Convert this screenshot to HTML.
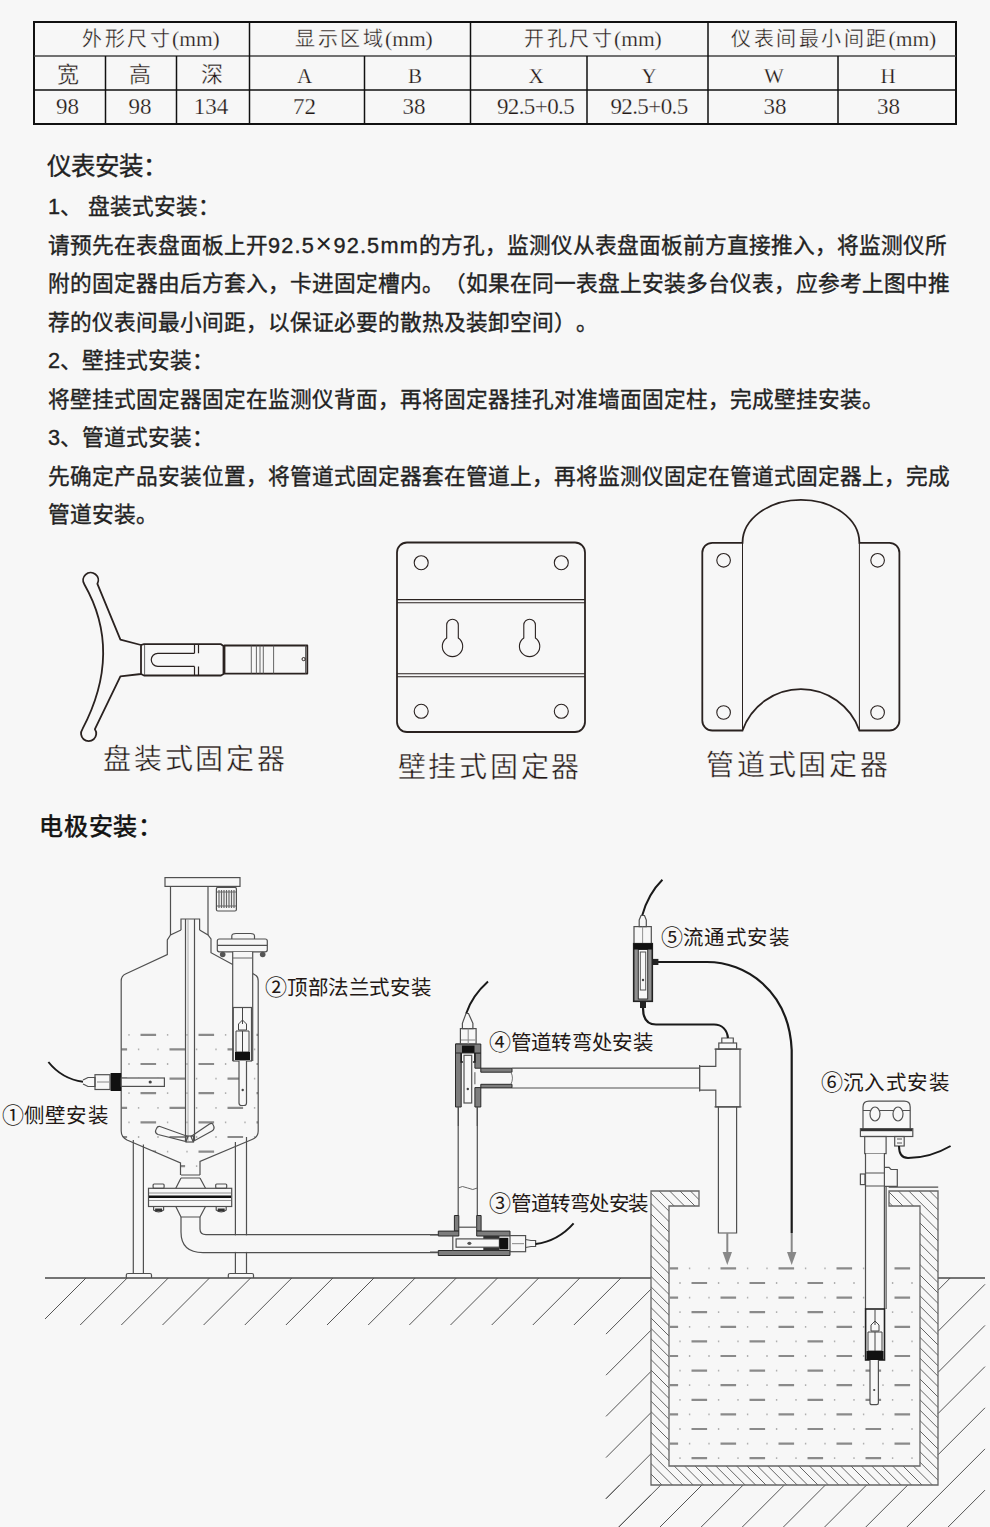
<!DOCTYPE html>
<html lang="zh-CN">
<head>
<meta charset="utf-8">
<style>
html,body{margin:0;padding:0;}
body{text-spacing-trim:space-all;width:990px;height:1527px;background:#f7f7f7;position:relative;overflow:hidden;font-family:"Liberation Sans",sans-serif;color:#222;}
.t{position:absolute;white-space:nowrap;line-height:1;}
.b{font-size:21.7px;font-weight:400;left:48px;-webkit-text-stroke:0.35px #222;}
.h{font-size:24.5px;font-weight:400;-webkit-text-stroke:0.35px #222;}
.tb{font-size:20px;color:#231815;letter-spacing:2.5px;-webkit-text-stroke:0.35px #f7f7f7;}
.tb .ser{letter-spacing:0;-webkit-text-stroke:0.25px #f7f7f7;}
.ser{font-family:"Liberation Serif",serif;font-size:21.5px;color:#231815;}
.tc{width:100px;text-align:center;font-size:22px;color:#231815;-webkit-text-stroke:0.35px #f7f7f7;}
.tc.ser{-webkit-text-stroke:0.25px #f7f7f7;font-size:21px;}
.tc.num{font-size:23px;}
.cap{font-size:28px;color:#231815;letter-spacing:2.8px;-webkit-text-stroke:0.4px #f7f7f7;}
.lb{font-size:20.5px;color:#231815;letter-spacing:1.2px;}
.cn{font-size:22px;letter-spacing:0;}
svg{position:absolute;left:0;top:0;}
</style>
</head>
<body>
<svg width="990" height="1527" viewBox="0 0 990 1527">
<!-- table -->
<g stroke="#111" fill="none">
<rect x="34" y="22" width="922" height="102" stroke-width="2"/>
<line x1="34" y1="56" x2="956" y2="56" stroke-width="1.5" stroke="#444"/>
<line x1="34" y1="90" x2="956" y2="90" stroke-width="1.5"/>
<g stroke-width="1.5">
<line x1="105.5" y1="56" x2="105.5" y2="124"/>
<line x1="176.5" y1="56" x2="176.5" y2="124"/>
<line x1="249.5" y1="22" x2="249.5" y2="124"/>
<line x1="364.5" y1="56" x2="364.5" y2="124"/>
<line x1="470.5" y1="22" x2="470.5" y2="124"/>
<line x1="587" y1="56" x2="587" y2="124"/>
<line x1="708" y1="22" x2="708" y2="124"/>
<line x1="838" y1="56" x2="838" y2="124"/>
</g>
</g>

<!-- bracket 1 -->
<g fill="none" stroke="#2a2220" stroke-width="1.8" stroke-linejoin="round">
<path d="M84.3,584.3 A7.6,7.6 0 1 1 97.4,583.8 L120.4,639.6 L141,645 L141,674 L120.4,676.3 L94.9,729.2 A7.6,7.6 0 1 1 82.4,729.2 Q123,652 84.3,584.3 Z"/>
<path d="M141,645 L144,644.2 L221,644.2 L223.5,646 L223.5,674 L221,675.5 L144,675.5 L141,674"/>
<rect x="224.5" y="645.5" width="82.8" height="28.1"/>
<path d="M194.5,653.3 L157.8,653.3 A6.55,6.55 0 0 0 157.8,666.4 L194.5,666.4" stroke-width="1.2"/>
<path d="M194.5,644.2 V653.3 M198.5,644.2 V653.3 M194.5,666.4 V675.5 M198.5,666.4 V675.5" stroke-width="1.2"/>
<path d="M144.6,645 V675 M251.3,645.5 V673.6 M256.4,645.5 V673.6 M260,645.5 V673.6 M263.3,645.5 V673.6 M273.6,645.5 V673.6 M305.5,645.5 V673.6" stroke-width="0.9" stroke="#555"/>
<circle cx="303.6" cy="659.1" r="1.6" stroke-width="1"/>
</g>
<!-- bracket 2 -->
<g fill="none" stroke="#2a2220" stroke-width="1.8">
<rect x="397" y="542.5" width="188" height="189.5" rx="10"/>
<g stroke-width="1.1">
<circle cx="421.2" cy="562.7" r="7"/><circle cx="561.3" cy="562.7" r="7"/>
<circle cx="421.2" cy="711.3" r="7"/><circle cx="561.3" cy="711.3" r="7"/>
</g>
<path d="M397,599.6 H585 M397,602.7 H585 M397,673.8 H585 M397,676.7 H585" stroke-width="1.1"/>
<path d="M446.7,638 V625 A5.8,5.8 0 0 1 458.3,625 V638 A10.2,10.2 0 1 1 446.7,638 Z" stroke-width="1.1"/>
<path d="M523.8,638 V625 A5.8,5.8 0 0 1 535.4,625 V638 A10.2,10.2 0 1 1 523.8,638 Z" stroke-width="1.1"/>
</g>
<!-- bracket 3 -->
<g fill="none" stroke="#2a2220" stroke-width="1.8">
<path d="M742.5,542.8 A58.45,43 0 0 1 859.4,542.8 L889.4,542.8 A10,10 0 0 1 899.4,552.8 L899.4,720.5 A10,10 0 0 1 889.4,730.5 L859.4,730.5 A62,62 0 0 0 742.5,730.5 L712.3,730.5 A10,10 0 0 1 702.3,720.5 L702.3,552.8 A10,10 0 0 1 712.3,542.8 Z"/>
<path d="M742.5,542.8 V730.5 M859.4,542.8 V730.5" stroke-width="1"/>
<g stroke-width="1.1">
<circle cx="723.6" cy="560.3" r="6.8"/><circle cx="877.6" cy="560.3" r="6.8"/>
<circle cx="723.6" cy="712.5" r="6.8"/><circle cx="877.6" cy="712.5" r="6.8"/>
</g>
</g>
<path d="M45.0,1319.0L86.0,1278.0M80.2,1325.0L127.2,1278.0M121.3,1325.0L168.3,1278.0M162.5,1325.0L209.5,1278.0M203.6,1325.0L250.6,1278.0M244.8,1325.0L291.8,1278.0M285.9,1325.0L332.9,1278.0M327.0,1325.0L374.0,1278.0M368.2,1325.0L415.2,1278.0M409.3,1325.0L456.3,1278.0M450.5,1325.0L497.5,1278.0M491.7,1325.0L538.7,1278.0M532.8,1325.0L579.8,1278.0M573.9,1325.0L620.9,1278.0M615.1,1325.0L651.0,1289.1M606.0,1334.1L615.1,1325.0M606.0,1375.2L651.0,1330.2M606.0,1416.4L651.0,1371.4M606.0,1457.6L651.0,1412.6M606.0,1498.7L651.0,1453.7M618.8,1527.0L651.0,1494.8M606.0,1498.7L619.7,1485.0M618.8,1527.0L660.8,1485.0M660.0,1527.0L702.0,1485.0M701.2,1527.0L743.2,1485.0M742.3,1527.0L784.3,1485.0M783.4,1527.0L825.4,1485.0M824.6,1527.0L866.6,1485.0M865.8,1527.0L907.8,1485.0M906.9,1527.0L948.9,1485.0M948.1,1527.0L985.0,1490.1M938.0,1290.2L950.2,1278.0M938.0,1331.3L985.0,1284.3M938.0,1372.4L985.0,1325.4M938.0,1413.6L985.0,1366.6M938.0,1454.8L985.0,1407.8M948.9,1485.0L985.0,1448.9" stroke="#555" stroke-width="1" fill="none"/>
<path d="M45,1278H651M938,1278H985" stroke="#4a4a4a" stroke-width="1.3" fill="none"/>
<clipPath id="wall"><path d="M651,1191H699V1206H669V1466H920V1206H889V1191H938V1485H651Z"/></clipPath>
<path d="M640,1504.6L950,1814.6M640,1494.2L950,1804.2M640,1483.8L950,1793.8M640,1473.4L950,1783.4M640,1463.0L950,1773.0M640,1452.6L950,1762.6M640,1442.2L950,1752.2M640,1431.8L950,1741.8M640,1421.4L950,1731.4M640,1411.0L950,1721.0M640,1400.6L950,1710.6M640,1390.2L950,1700.2M640,1379.8L950,1689.8M640,1369.4L950,1679.4M640,1359.0L950,1669.0M640,1348.6L950,1658.6M640,1338.2L950,1648.2M640,1327.8L950,1637.8M640,1317.4L950,1627.4M640,1307.0L950,1617.0M640,1296.6L950,1606.6M640,1286.2L950,1596.2M640,1275.8L950,1585.8M640,1265.4L950,1575.4M640,1255.0L950,1565.0M640,1244.6L950,1554.6M640,1234.2L950,1544.2M640,1223.8L950,1533.8M640,1213.4L950,1523.4M640,1203.0L950,1513.0M640,1192.6L950,1502.6M640,1182.2L950,1492.2M640,1171.8L950,1481.8M640,1161.4L950,1471.4M640,1151.0L950,1461.0M640,1140.6L950,1450.6M640,1130.2L950,1440.2M640,1119.8L950,1429.8M640,1109.4L950,1419.4M640,1099.0L950,1409.0M640,1088.6L950,1398.6M640,1078.2L950,1388.2M640,1067.8L950,1377.8M640,1057.4L950,1367.4M640,1047.0L950,1357.0M640,1036.6L950,1346.6M640,1026.2L950,1336.2M640,1015.8L950,1325.8M640,1005.4L950,1315.4M640,995.0L950,1305.0M640,984.6L950,1294.6M640,974.2L950,1284.2M640,963.8L950,1273.8M640,953.4L950,1263.4M640,943.0L950,1253.0M640,932.6L950,1242.6M640,922.2L950,1232.2M640,911.8L950,1221.8M640,901.4L950,1211.4M640,891.0L950,1201.0M640,880.6L950,1190.6M640,870.2L950,1180.2" stroke="#666" stroke-width="1" fill="none" clip-path="url(#wall)"/>
<path d="M651,1191H699V1206H669V1466H920V1206H889V1191H938V1485H651Z" stroke="#666" stroke-width="1.3" fill="none"/>
<clipPath id="vw"><path d="M121.5,1027H258V1131Q258,1137 252,1139.5L200,1161.5V1172H181V1163L127,1140Q121.5,1137 121.5,1131Z"/></clipPath>
<clipPath id="pw"><rect x="669.5" y="1260" width="250" height="205.5"/></clipPath>
<g clip-path="url(#vw)"><path d="M82.5,1034.8H98.1M140.5,1034.8H156.1M198.5,1034.8H214.1M256.5,1034.8H272.1M111.5,1049.4H127.1M169.5,1049.4H185.1M227.5,1049.4H243.1M285.5,1049.4H301.1M82.5,1064.0H98.1M140.5,1064.0H156.1M198.5,1064.0H214.1M256.5,1064.0H272.1M111.5,1078.6H127.1M169.5,1078.6H185.1M227.5,1078.6H243.1M285.5,1078.6H301.1M82.5,1093.2H98.1M140.5,1093.2H156.1M198.5,1093.2H214.1M256.5,1093.2H272.1M111.5,1107.8H127.1M169.5,1107.8H185.1M227.5,1107.8H243.1M285.5,1107.8H301.1M82.5,1122.4H98.1M140.5,1122.4H156.1M198.5,1122.4H214.1M256.5,1122.4H272.1M111.5,1137.0H127.1M169.5,1137.0H185.1M227.5,1137.0H243.1M285.5,1137.0H301.1M82.5,1151.6H98.1M140.5,1151.6H156.1M198.5,1151.6H214.1M256.5,1151.6H272.1M111.5,1166.2H127.1M169.5,1166.2H185.1M227.5,1166.2H243.1M285.5,1166.2H301.1" stroke="#8a8a8a" stroke-width="2.2"/><path d="M108.9,1034.8H110.3M128.3,1034.8H129.7M166.9,1034.8H168.3M186.3,1034.8H187.7M224.9,1034.8H226.3M244.3,1034.8H245.7M282.9,1034.8H284.3M99.3,1049.4H100.7M137.9,1049.4H139.3M157.3,1049.4H158.7M195.9,1049.4H197.3M215.3,1049.4H216.7M253.9,1049.4H255.3M273.3,1049.4H274.7M108.9,1064.0H110.3M128.3,1064.0H129.7M166.9,1064.0H168.3M186.3,1064.0H187.7M224.9,1064.0H226.3M244.3,1064.0H245.7M282.9,1064.0H284.3M99.3,1078.6H100.7M137.9,1078.6H139.3M157.3,1078.6H158.7M195.9,1078.6H197.3M215.3,1078.6H216.7M253.9,1078.6H255.3M273.3,1078.6H274.7M108.9,1093.2H110.3M128.3,1093.2H129.7M166.9,1093.2H168.3M186.3,1093.2H187.7M224.9,1093.2H226.3M244.3,1093.2H245.7M282.9,1093.2H284.3M99.3,1107.8H100.7M137.9,1107.8H139.3M157.3,1107.8H158.7M195.9,1107.8H197.3M215.3,1107.8H216.7M253.9,1107.8H255.3M273.3,1107.8H274.7M108.9,1122.4H110.3M128.3,1122.4H129.7M166.9,1122.4H168.3M186.3,1122.4H187.7M224.9,1122.4H226.3M244.3,1122.4H245.7M282.9,1122.4H284.3M99.3,1137.0H100.7M137.9,1137.0H139.3M157.3,1137.0H158.7M195.9,1137.0H197.3M215.3,1137.0H216.7M253.9,1137.0H255.3M273.3,1137.0H274.7M108.9,1151.6H110.3M128.3,1151.6H129.7M166.9,1151.6H168.3M186.3,1151.6H187.7M224.9,1151.6H226.3M244.3,1151.6H245.7M282.9,1151.6H284.3M99.3,1166.2H100.7M137.9,1166.2H139.3M157.3,1166.2H158.7M195.9,1166.2H197.3M215.3,1166.2H216.7M253.9,1166.2H255.3M273.3,1166.2H274.7" stroke="#b0b0b0" stroke-width="1.8"/></g>
<g clip-path="url(#pw)"><path d="M662.5,1268.4H678.1M720.5,1268.4H736.1M778.5,1268.4H794.1M836.5,1268.4H852.1M894.5,1268.4H910.1M633.5,1283.0H649.1M691.5,1283.0H707.1M749.5,1283.0H765.1M807.5,1283.0H823.1M865.5,1283.0H881.1M923.5,1283.0H939.1M662.5,1297.6H678.1M720.5,1297.6H736.1M778.5,1297.6H794.1M836.5,1297.6H852.1M894.5,1297.6H910.1M633.5,1312.2H649.1M691.5,1312.2H707.1M749.5,1312.2H765.1M807.5,1312.2H823.1M865.5,1312.2H881.1M923.5,1312.2H939.1M662.5,1326.8H678.1M720.5,1326.8H736.1M778.5,1326.8H794.1M836.5,1326.8H852.1M894.5,1326.8H910.1M633.5,1341.4H649.1M691.5,1341.4H707.1M749.5,1341.4H765.1M807.5,1341.4H823.1M865.5,1341.4H881.1M923.5,1341.4H939.1M662.5,1356.0H678.1M720.5,1356.0H736.1M778.5,1356.0H794.1M836.5,1356.0H852.1M894.5,1356.0H910.1M633.5,1370.6H649.1M691.5,1370.6H707.1M749.5,1370.6H765.1M807.5,1370.6H823.1M865.5,1370.6H881.1M923.5,1370.6H939.1M662.5,1385.2H678.1M720.5,1385.2H736.1M778.5,1385.2H794.1M836.5,1385.2H852.1M894.5,1385.2H910.1M633.5,1399.8H649.1M691.5,1399.8H707.1M749.5,1399.8H765.1M807.5,1399.8H823.1M865.5,1399.8H881.1M923.5,1399.8H939.1M662.5,1414.4H678.1M720.5,1414.4H736.1M778.5,1414.4H794.1M836.5,1414.4H852.1M894.5,1414.4H910.1M633.5,1429.0H649.1M691.5,1429.0H707.1M749.5,1429.0H765.1M807.5,1429.0H823.1M865.5,1429.0H881.1M923.5,1429.0H939.1M662.5,1443.6H678.1M720.5,1443.6H736.1M778.5,1443.6H794.1M836.5,1443.6H852.1M894.5,1443.6H910.1M633.5,1458.2H649.1M691.5,1458.2H707.1M749.5,1458.2H765.1M807.5,1458.2H823.1M865.5,1458.2H881.1M923.5,1458.2H939.1" stroke="#8a8a8a" stroke-width="2.2"/><path d="M630.9,1268.4H632.3M650.3,1268.4H651.7M688.9,1268.4H690.3M708.3,1268.4H709.7M746.9,1268.4H748.3M766.3,1268.4H767.7M804.9,1268.4H806.3M824.3,1268.4H825.7M862.9,1268.4H864.3M882.3,1268.4H883.7M920.9,1268.4H922.3M940.3,1268.4H941.7M659.9,1283.0H661.3M679.3,1283.0H680.7M717.9,1283.0H719.3M737.3,1283.0H738.7M775.9,1283.0H777.3M795.3,1283.0H796.7M833.9,1283.0H835.3M853.3,1283.0H854.7M891.9,1283.0H893.3M911.3,1283.0H912.7M949.9,1283.0H951.3M630.9,1297.6H632.3M650.3,1297.6H651.7M688.9,1297.6H690.3M708.3,1297.6H709.7M746.9,1297.6H748.3M766.3,1297.6H767.7M804.9,1297.6H806.3M824.3,1297.6H825.7M862.9,1297.6H864.3M882.3,1297.6H883.7M920.9,1297.6H922.3M940.3,1297.6H941.7M659.9,1312.2H661.3M679.3,1312.2H680.7M717.9,1312.2H719.3M737.3,1312.2H738.7M775.9,1312.2H777.3M795.3,1312.2H796.7M833.9,1312.2H835.3M853.3,1312.2H854.7M891.9,1312.2H893.3M911.3,1312.2H912.7M949.9,1312.2H951.3M630.9,1326.8H632.3M650.3,1326.8H651.7M688.9,1326.8H690.3M708.3,1326.8H709.7M746.9,1326.8H748.3M766.3,1326.8H767.7M804.9,1326.8H806.3M824.3,1326.8H825.7M862.9,1326.8H864.3M882.3,1326.8H883.7M920.9,1326.8H922.3M940.3,1326.8H941.7M659.9,1341.4H661.3M679.3,1341.4H680.7M717.9,1341.4H719.3M737.3,1341.4H738.7M775.9,1341.4H777.3M795.3,1341.4H796.7M833.9,1341.4H835.3M853.3,1341.4H854.7M891.9,1341.4H893.3M911.3,1341.4H912.7M949.9,1341.4H951.3M630.9,1356.0H632.3M650.3,1356.0H651.7M688.9,1356.0H690.3M708.3,1356.0H709.7M746.9,1356.0H748.3M766.3,1356.0H767.7M804.9,1356.0H806.3M824.3,1356.0H825.7M862.9,1356.0H864.3M882.3,1356.0H883.7M920.9,1356.0H922.3M940.3,1356.0H941.7M659.9,1370.6H661.3M679.3,1370.6H680.7M717.9,1370.6H719.3M737.3,1370.6H738.7M775.9,1370.6H777.3M795.3,1370.6H796.7M833.9,1370.6H835.3M853.3,1370.6H854.7M891.9,1370.6H893.3M911.3,1370.6H912.7M949.9,1370.6H951.3M630.9,1385.2H632.3M650.3,1385.2H651.7M688.9,1385.2H690.3M708.3,1385.2H709.7M746.9,1385.2H748.3M766.3,1385.2H767.7M804.9,1385.2H806.3M824.3,1385.2H825.7M862.9,1385.2H864.3M882.3,1385.2H883.7M920.9,1385.2H922.3M940.3,1385.2H941.7M659.9,1399.8H661.3M679.3,1399.8H680.7M717.9,1399.8H719.3M737.3,1399.8H738.7M775.9,1399.8H777.3M795.3,1399.8H796.7M833.9,1399.8H835.3M853.3,1399.8H854.7M891.9,1399.8H893.3M911.3,1399.8H912.7M949.9,1399.8H951.3M630.9,1414.4H632.3M650.3,1414.4H651.7M688.9,1414.4H690.3M708.3,1414.4H709.7M746.9,1414.4H748.3M766.3,1414.4H767.7M804.9,1414.4H806.3M824.3,1414.4H825.7M862.9,1414.4H864.3M882.3,1414.4H883.7M920.9,1414.4H922.3M940.3,1414.4H941.7M659.9,1429.0H661.3M679.3,1429.0H680.7M717.9,1429.0H719.3M737.3,1429.0H738.7M775.9,1429.0H777.3M795.3,1429.0H796.7M833.9,1429.0H835.3M853.3,1429.0H854.7M891.9,1429.0H893.3M911.3,1429.0H912.7M949.9,1429.0H951.3M630.9,1443.6H632.3M650.3,1443.6H651.7M688.9,1443.6H690.3M708.3,1443.6H709.7M746.9,1443.6H748.3M766.3,1443.6H767.7M804.9,1443.6H806.3M824.3,1443.6H825.7M862.9,1443.6H864.3M882.3,1443.6H883.7M920.9,1443.6H922.3M940.3,1443.6H941.7M659.9,1458.2H661.3M679.3,1458.2H680.7M717.9,1458.2H719.3M737.3,1458.2H738.7M775.9,1458.2H777.3M795.3,1458.2H796.7M833.9,1458.2H835.3M853.3,1458.2H854.7M891.9,1458.2H893.3M911.3,1458.2H912.7M949.9,1458.2H951.3" stroke="#b0b0b0" stroke-width="1.8"/></g>
<rect x="165" y="877.6" width="75" height="8.8" fill="none" stroke="#505050" stroke-width="1.2"/>
<path d="M170.5,886.4V935 M208,886.4V935" fill="none" stroke="#505050" stroke-width="1.2"/>
<rect x="216.4" y="887.3" width="20" height="23.7" rx="1.5" fill="none" stroke="#505050" stroke-width="1.2"/>
<path d="M219,890V908 M221.5,890V908 M224,890V908 M226.5,890V908 M229,890V908 M231.5,890V908 M234,890V908" stroke="#666" stroke-width="1.2" fill="none"/>
<path d="M217,892H236M217,906H236" stroke="#666" stroke-width="1" fill="none"/>
<path d="M181,930 L170.5,935 L167.3,940 V954.5 L125.5,974 Q121.2,976 121.2,981 V1131 Q121.2,1137 127,1140 L180.5,1163 V1175" fill="none" stroke="#505050" stroke-width="1.2"/>
<path d="M199.6,930 L208,935 L211,939 V952.7 L232.7,964.5 M252.7,973.6 L256,975.5 Q258.2,977 258.2,981 V1131 Q258.2,1137 252,1139.5 L200,1161.5 V1175" fill="none" stroke="#505050" stroke-width="1.2"/>
<path d="M181,930V919H199.6V930" fill="none" stroke="#505050" stroke-width="1.2"/>
<path d="M185.5,919V1141 M194.5,919V1141" fill="none" stroke="#505050" stroke-width="1.2"/>
<path d="M188,919V1141" stroke="#999" stroke-width="0.8" fill="none"/>
<path d="M156.5,1128.5 Q154,1133 158,1134.5 L186,1141.5 L188,1136.5 L160,1126.5 Q157.5,1126 156.5,1128.5Z" fill="none" stroke="#505050" stroke-width="1.2"/>
<path d="M213,1124.5 Q215.5,1129 212,1131 L193,1141.5 L191,1136.5 L209.5,1124 Q212,1122.5 213,1124.5Z" fill="none" stroke="#505050" stroke-width="1.2"/>
<rect x="186" y="1136" width="7.5" height="6" fill="none" stroke="#505050" stroke-width="1.2"/>
<path d="M133.3,1140V1273.5 M143.4,1144.5V1273.5 M235.4,1142V1273.5 M246.5,1137V1273.5" fill="none" stroke="#505050" stroke-width="1.2"/>
<path d="M126.3,1278 V1275 Q126.3,1273.5 128,1273.5 H150 Q151.5,1273.5 151.5,1275 V1278 M228.3,1278 V1275 Q228.3,1273.5 230,1273.5 H252 Q253.5,1273.5 253.5,1275 V1278" fill="none" stroke="#505050" stroke-width="1.2"/>
<path d="M181,1175H200M181,1178H200" fill="none" stroke="#505050" stroke-width="1.2"/>
<path d="M181,1178 L175.8,1188.3 M200,1178 L205.5,1188.3 M175.8,1206.5 L181,1217 M205.5,1206.5 L200,1217 M181,1217H200" fill="none" stroke="#505050" stroke-width="1.2"/>
<rect x="148.5" y="1188.3" width="83.2" height="18.2" fill="none" stroke="#505050" stroke-width="1.2"/>
<path d="M149,1196.8H231" stroke="#111" stroke-width="2.6"/>
<path d="M149,1193H231M149,1200.5H231" stroke="#777" stroke-width="0.8"/>
<rect x="153.1" y="1184" width="11" height="4.3" rx="1" fill="none" stroke="#505050" stroke-width="1.2"/>
<path d="M153.6,1206.5 V1210 Q158.6,1214 163.6,1210 V1206.5" fill="none" stroke="#505050" stroke-width="1.2"/>
<rect x="155.1" y="1208.5" width="7" height="3" fill="#333"/>
<rect x="215.7" y="1184" width="11" height="4.3" rx="1" fill="none" stroke="#505050" stroke-width="1.2"/>
<path d="M216.2,1206.5 V1210 Q221.2,1214 226.2,1210 V1206.5" fill="none" stroke="#505050" stroke-width="1.2"/>
<rect x="217.7" y="1208.5" width="7" height="3" fill="#333"/>
<rect x="201" y="1235.3" width="237" height="16.6" fill="#f7f7f7"/>
<path d="M181,1217 V1232 Q181,1252.6 203,1252.6 H438.2" fill="none" stroke="#505050" stroke-width="1.2"/>
<path d="M200,1217 V1229 Q200,1234.6 206,1234.6 H438.2" fill="none" stroke="#505050" stroke-width="1.2"/>
<path d="M231.8,939 V936 Q231.8,933.5 236,933.5 H250.5 Q254.5,933.5 254.5,936 V939" fill="none" stroke="#505050" stroke-width="1.2"/>
<rect x="217.3" y="939" width="50" height="12.8" rx="2" fill="#f7f7f7" stroke="#505050" stroke-width="1.2"/>
<path d="M217.3,945.4H267.3" fill="none" stroke="#505050" stroke-width="1.2"/>
<circle cx="222.7" cy="954.5" r="2.8" fill="#555"/>
<circle cx="262.7" cy="954.5" r="2.8" fill="#555"/>
<rect x="233" y="952" width="19.4" height="56" fill="#f7f7f7"/>
<path d="M232.7,951.8V1061 M252.7,951.8V1061" fill="none" stroke="#505050" stroke-width="1.2"/>
<path d="M232.7,958H252.7" stroke="#666" stroke-width="1"/>
<rect x="233.3" y="1007.5" width="18.2" height="53.5" fill="#f7f7f7" stroke="#505050" stroke-width="1.2" stroke="#222" stroke-width="1.8"/>
<path d="M242.5,1008V1024 M238.5,1024 L242.5,1020 L246.5,1024 V1030 H238.5Z M236,1031H249V1052H236Z M242.5,1031V1052" stroke="#444" stroke-width="1" fill="none"/>
<rect x="235" y="1052" width="15" height="8" fill="#111"/>
<path d="M239,1061 V1103 Q239,1105.5 241.5,1105.5 H244 Q246.5,1105.5 246.5,1103 V1061" fill="#f7f7f7" stroke="#505050" stroke-width="1.2"/>
<circle cx="242.7" cy="1090" r="1.2" fill="#444"/>
<path d="M48.4,1062 Q62,1079 83,1081.7" stroke="#1a1a1a" stroke-width="2" fill="none"/>
<path d="M83,1080 L88,1077.5 H95 V1086.5 H88 L83,1084" fill="none" stroke="#505050" stroke-width="1.2"/>
<rect x="95" y="1074.7" width="15" height="14.8" fill="none" stroke="#505050" stroke-width="1.2" stroke-width="1.6"/>
<path d="M97,1082H109" stroke="#888" stroke-width="1"/>
<rect x="110.6" y="1073" width="10.6" height="18" fill="#111"/>
<rect x="121.2" y="1078" width="43.2" height="8.4" fill="#f7f7f7" stroke="#505050" stroke-width="1.2"/>
<circle cx="150.2" cy="1082" r="1.6" fill="#444"/>
<path d="M458.2,1105.7 V1215.5 M477.3,1105.7 V1215.5" fill="none" stroke="#505050" stroke-width="1.2"/>
<path d="M458.2,1188 Q462,1185 467.7,1188 Q473,1191 477.3,1188" stroke="#666" stroke-width="1" fill="none"/>
<path d="M454.4,1215.5 H458.8 V1231.1 H454.4Z M476.7,1215.5 H481.1 V1231.1 H476.7Z" fill="#7d7d7d" stroke="#2a2a2a" stroke-width="1"/>
<path d="M458.8,1227.2H476.7" fill="none" stroke="#505050" stroke-width="1.2"/>
<path d="M438.3,1231.1 H458.8 V1236 H438.3Z M476.7,1231.1 H510 V1236 H476.7Z M438.3,1250.5 H510 V1255.5 H438.3Z" fill="#7d7d7d" stroke="#2a2a2a" stroke-width="1"/>
<path d="M430,1235 H438.3 M430,1252.2 H438.3 M452.8,1236 V1250.5" fill="none" stroke="#505050" stroke-width="1.2"/>
<rect x="483.3" y="1236" width="16.1" height="3" fill="#333"/><rect x="483.3" y="1247.2" width="16.1" height="3.3" fill="#333"/>
<rect x="456.1" y="1238.9" width="43.3" height="8.3" fill="none" stroke="#505050" stroke-width="1.2"/>
<ellipse cx="469.4" cy="1243.3" rx="2" ry="1.6" fill="#555"/>
<rect x="499.4" y="1237.8" width="8.9" height="11.6" fill="#111"/>
<rect x="510" y="1235.6" width="15.6" height="16.1" fill="none" stroke="#505050" stroke-width="1.2" stroke-width="1.6"/>
<path d="M512,1243.6H524" stroke="#999" stroke-width="1.2"/>
<path d="M525.6,1239.5 L531,1240.5 H535.6 V1246.5 H531 L525.6,1247.5" fill="none" stroke="#505050" stroke-width="1.2"/>
<path d="M535.6,1244 Q558,1241 573.6,1223.3" stroke="#1a1a1a" stroke-width="2" fill="none"/>
<path d="M455.5,1044 H461.2 V1107 H455.5Z M474.9,1053 H480.8 V1068.2 H474.9Z M474.9,1087.6 H480.8 V1107 H474.9Z M480.8,1068.2 H512 V1072.2 H480.8Z M480.8,1084.3 H512 V1087.9 H480.8Z" fill="#7d7d7d" stroke="#2a2a2a" stroke-width="1"/>
<path d="M455.5,1044 H480.8 V1053 H455.5Z" fill="#7d7d7d" stroke="#2a2a2a" stroke-width="1"/>
<path d="M461.2,1053 V1062 H463 M474.9,1053 V1062 H472.9" stroke="#222" stroke-width="1.6" fill="none"/>
<path d="M512,1068.2 H699.6 M512,1088 H699.6" fill="none" stroke="#505050" stroke-width="1.2"/>
<path d="M510.9,1072.2 Q514,1078 510.9,1084.3" stroke="#777" stroke-width="1" fill="none"/>
<path d="M474.9,1072.2 V1084.3" stroke="#555" stroke-width="1" fill="none"/>
<path d="M488,981.6 Q472,996 466.2,1013.5" stroke="#1a1a1a" stroke-width="2" fill="none"/>
<path d="M462.4,1028.6 V1023.3 L466,1013.5 H468.5 L472.9,1023.3 V1028.6Z" fill="none" stroke="#505050" stroke-width="1.2"/>
<rect x="460.4" y="1028.6" width="15.7" height="15.4" fill="none" stroke="#505050" stroke-width="1.2" stroke-width="1.6"/>
<path d="M468.2,1028.6V1044 M461,1040H475.5" stroke="#888" stroke-width="1"/>
<rect x="462" y="1045.6" width="12.5" height="7.2" fill="#111"/>
<rect x="464" y="1055.3" width="7.7" height="47.7" fill="none" stroke="#505050" stroke-width="1.2"/>
<circle cx="467.8" cy="1089" r="1.2" fill="#444"/>
<path d="M458.4,1107 V1126 M477.3,1107 V1126" fill="none" stroke="#505050" stroke-width="1.2"/>
<path d="M721.8,1043 V1038 H733.3 V1043" fill="none" stroke="#505050" stroke-width="1.2"/>
<rect x="718.8" y="1043" width="17.8" height="6.2" fill="none" stroke="#505050" stroke-width="1.2"/>
<path d="M715.8,1049.2 H740 V1106.8 H715.8 V1090.2 H699.6 V1066.4 H715.8 Z" fill="none" stroke="#505050" stroke-width="1.2"/>
<path d="M714.5,1049.2H741.5 M714.5,1106.8H741.5 M699.6,1065V1091.5" fill="none" stroke="#505050" stroke-width="1.2"/>
<path d="M718.4,1106.8 V1233 H736.6 V1106.8" fill="none" stroke="#505050" stroke-width="1.2"/>
<path d="M727.3,1233V1256" stroke="#888" stroke-width="2"/><path d="M722.6,1252 H732 L727.3,1265Z" fill="#888"/>
<path d="M791.7,1233V1256" stroke="#888" stroke-width="2"/><path d="M787,1252 H796.4 L791.7,1265Z" fill="#888"/>
<path d="M658,962 H707 C745,962 789,990 791.7,1050 V1233" stroke="#1a1a1a" stroke-width="2.2" fill="none"/>
<path d="M643,1008 C643,1020 648,1024.5 656,1024.5 H714 C722,1024.5 727,1030 728,1038" stroke="#1a1a1a" stroke-width="2.2" fill="none"/>
<path d="M662.4,879.7 Q648,894 642.2,915.5" stroke="#1a1a1a" stroke-width="2" fill="none"/>
<path d="M639.2,920 L641,915.5 H644.5 L646.3,920 V926.6 H639.2Z" fill="none" stroke="#505050" stroke-width="1.2"/>
<rect x="634" y="926.6" width="17.3" height="17.1" fill="none" stroke="#505050" stroke-width="1.2" stroke-width="1.6"/>
<path d="M642.6,926.6V943.7" stroke="#888" stroke-width="0.9"/>
<rect x="633.7" y="943.7" width="18.6" height="57.6" fill="#8f8f8f" stroke="#222" stroke-width="1.6"/>
<rect x="638.3" y="949.5" width="9.4" height="49.5" fill="#f7f7f7" stroke="#333" stroke-width="1"/>
<rect x="633.7" y="943.7" width="18.6" height="5.8" fill="#111"/>
<rect x="640.3" y="952" width="5.4" height="38" stroke="#555" stroke-width="1" fill="none"/>
<circle cx="643" cy="980" r="1.2" fill="#444"/>
<rect x="640" y="1001.3" width="6" height="6.7" fill="#222"/>
<rect x="652.3" y="958.9" width="6.1" height="6.1" fill="#222"/>
<path d="M863,1129.6 V1107 Q863,1101.2 869,1101.2 H904.2 Q910.2,1101.2 910.2,1107 V1129.6" fill="none" stroke="#505050" stroke-width="1.2" stroke-width="1.5"/>
<path d="M863,1110.5H910.2" fill="none" stroke="#505050" stroke-width="1.2"/>
<ellipse cx="875" cy="1114" rx="5" ry="7" fill="#f7f7f7" stroke="#505050" stroke-width="1.2"/><ellipse cx="898" cy="1114" rx="5" ry="7" fill="#f7f7f7" stroke="#505050" stroke-width="1.2"/>
<rect x="860.4" y="1128.7" width="52.4" height="7.8" fill="none" stroke="#505050" stroke-width="1.2" stroke-width="1.5"/>
<rect x="861" y="1128.7" width="51.3" height="2.5" fill="#333"/>
<rect x="894.7" y="1136.5" width="9.5" height="9.5" fill="none" stroke="#505050" stroke-width="1.2"/>
<path d="M897,1139h5M897,1143h5" stroke="#555" stroke-width="1"/>
<path d="M899,1146 Q899,1158 908,1158 Q930,1158 950.6,1146" stroke="#1a1a1a" stroke-width="2" fill="none"/>
<rect x="864.7" y="1136.5" width="21.4" height="17.1" fill="none" stroke="#505050" stroke-width="1.2"/>
<rect x="866" y="1153.6" width="18" height="156" fill="#f7f7f7"/>
<path d="M865.5,1153.6 V1309 M884.4,1153.6 V1309 M886.1,1186 V1309" fill="none" stroke="#505050" stroke-width="1.2"/>
<path d="M884.4,1167.4 H889 L891,1169.5 H897.3 V1186.3 H884.4" fill="none" stroke="#505050" stroke-width="1.2"/>
<rect x="860.4" y="1174" width="4.6" height="10.6" fill="none" stroke="#505050" stroke-width="1.2"/>
<path d="M865.5,1173H884.4 M865.5,1186H884.4" fill="none" stroke="#505050" stroke-width="1.2"/>
<path d="M888.7,1187.1H938.2" fill="none" stroke="#505050" stroke-width="1.2"/>
<rect x="865.6" y="1309" width="18.9" height="51" fill="#f7f7f7" stroke="#222" stroke-width="1.6"/>
<path d="M875,1310V1325 M871,1325 L875,1321 L879,1325 V1331 H871Z M868,1332H882V1351H868Z M875,1332V1351" stroke="#444" stroke-width="1" fill="none"/>
<rect x="866.5" y="1351" width="17" height="9" fill="#111"/>
<path d="M870,1360 V1403 Q870,1404.7 872,1404.7 H876.4 Q878.4,1404.7 878.4,1403 V1360" fill="#f7f7f7" stroke="#505050" stroke-width="1.2"/>
<circle cx="874.2" cy="1390" r="1.1" fill="#444"/>
</svg>
<!-- table text -->
<div class="t tb" style="left:82px;top:29px">外形尺寸<span class="ser">(mm)</span></div>
<div class="t tb" style="left:295px;top:29px">显示区域<span class="ser">(mm)</span></div>
<div class="t tb" style="left:524px;top:29px">开孔尺寸<span class="ser">(mm)</span></div>
<div class="t tb" style="left:731px;top:29px">仪表间最小间距<span class="ser">(mm)</span></div>
<div class="t tc" style="left:17.5px;top:63.5px">宽</div>
<div class="t tc" style="left:89.5px;top:63.5px">高</div>
<div class="t tc" style="left:161.5px;top:63.5px">深</div>
<div class="t tc ser" style="left:254.5px;top:65.5px">A</div>
<div class="t tc ser" style="left:365px;top:65.5px">B</div>
<div class="t tc ser" style="left:486px;top:65.5px">X</div>
<div class="t tc ser" style="left:599px;top:65.5px">Y</div>
<div class="t tc ser" style="left:724px;top:65.5px">W</div>
<div class="t tc ser" style="left:838px;top:65.5px">H</div>
<div class="t tc ser num" style="left:17.5px;top:95px">98</div>
<div class="t tc ser num" style="left:90px;top:95px">98</div>
<div class="t tc ser num" style="left:161px;top:95px">134</div>
<div class="t tc ser num" style="left:254.5px;top:95px">72</div>
<div class="t tc ser num" style="left:364px;top:95px">38</div>
<div class="t tc ser num" style="left:485.5px;top:95px"><span style="letter-spacing:-0.6px">92.5+0.5</span></div>
<div class="t tc ser num" style="left:599px;top:95px"><span style="letter-spacing:-0.6px">92.5+0.5</span></div>
<div class="t tc ser num" style="left:725px;top:95px">38</div>
<div class="t tc ser num" style="left:838.5px;top:95px">38</div>
<div class="t cap" style="left:103px;top:746px">盘装式固定器</div>
<div class="t cap" style="left:397.5px;top:754px">壁挂式固定器</div>
<div class="t cap" style="left:706px;top:752px">管道式固定器</div>
<div class="t h" style="left:47px;top:155.4px">仪表安装：</div>
<div class="t b" style="top:195.5px">1、 盘装式安装：</div>
<div class="t b" style="top:234.5px">请预先在表盘面板上开<span style="letter-spacing:1.2px">92.5</span><span style="font-size:28px;margin:0 1.5px 0 0.5px;line-height:0;-webkit-text-stroke:0">×</span><span style="letter-spacing:1.2px">92.5mm</span>的方孔，监测仪从表盘面板前方直接推入，将监测仪所</div>
<div class="t b" style="top:273px">附的固定器由后方套入，卡进固定槽内。（如果在同一表盘上安装多台仪表，应参考上图中推</div>
<div class="t b" style="top:311.5px">荐的仪表间最小间距，以保证必要的散热及装卸空间）。</div>
<div class="t b" style="top:350px">2、壁挂式安装：</div>
<div class="t b" style="top:388.5px">将壁挂式固定器固定在监测仪背面，再将固定器挂孔对准墙面固定柱，完成壁挂安装。</div>
<div class="t b" style="top:427px">3、管道式安装：</div>
<div class="t b" style="top:465.5px">先确定产品安装位置，将管道式固定器套在管道上，再将监测仪固定在管道式固定器上，完成</div>
<div class="t b" style="top:504px">管道安装。</div>
<div class="t h" style="left:39px;top:815px;font-size:24px;color:#111;letter-spacing:0.8px;-webkit-text-stroke:0.6px #111">电极安装：</div>

<div class="t lb" style="left:2px;top:1104.5px"><span class="cn">①</span>侧壁安装</div>
<div class="t lb" style="letter-spacing:0.6px;left:265px;top:977.0px"><span class="cn">②</span>顶部法兰式安装</div>
<div class="t lb" style="letter-spacing:-0.5px;left:489px;top:1192.5px"><span class="cn">③</span>管道转弯处安装</div>
<div class="t lb" style="letter-spacing:0.4px;left:488.5px;top:1031.5px"><span class="cn">④</span>管道转弯处安装</div>
<div class="t lb" style="letter-spacing:1.6px;left:660.5px;top:927.0px"><span class="cn">⑤</span>流通式安装</div>
<div class="t lb" style="letter-spacing:1.6px;left:820.5px;top:1071.5px"><span class="cn">⑥</span>沉入式安装</div>

</body>
</html>
